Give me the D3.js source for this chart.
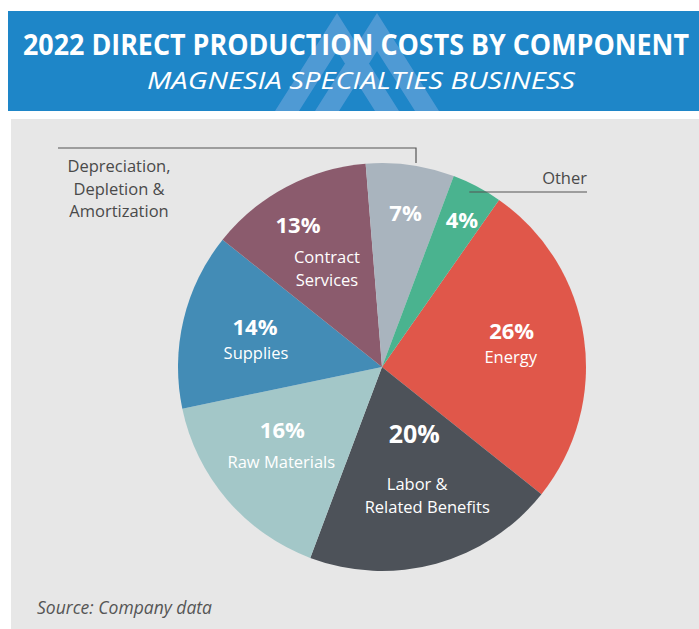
<!DOCTYPE html>
<html>
<head>
<meta charset="utf-8">
<script src="https://cdn.jsdelivr.net/npm/d3@7"></script>
<style>
  html, body { margin: 0; padding: 0; background: #fff; }
  svg { display: block; }
  text { font-family: "Open Sans", Lato, sans-serif; }
</style>
</head>
<body>
<div id="chart"></div>
<script>
// Data
const categories = ["Energy", "Labor & Related Benefits", "Raw Materials", "Supplies",
                    "Contract Services", "Depreciation, Depletion & Amortization", "Other"];
const shares = [26, 20, 16, 14, 13, 7, 4];
const nameLines = [["Energy"], ["Labor &", "Related Benefits"], ["Raw Materials"], ["Supplies"],
                   ["Contract", "Services"], [], []];
const outsideLines = [["Depreciation,", "Depletion &", "Amortization"], ["Other"]];
const titleText = "2022 DIRECT PRODUCTION COSTS BY COMPONENT";
const subtitleText = "MAGNESIA SPECIALTIES BUSINESS";
const sourceText = "Source: Company data";

const colors = ["#E0574A", "#4D5259", "#A3C7C8", "#438CB6", "#8B5B6D", "#A9B4BE", "#4AB38F"];

// label placement (radius along mid angle, then offsets per line)
const labelLayout = [
  { r: 130, pct: [1, -9.5], big: false, names: [[0, 14.5]] },
  { r: 110, pct: [3, -30], big: true, names: [[6, 17], [16, 40]] },
  { r: 130, pct: [-1, -14], big: false, names: [[-2, 16]] },
  { r: 128, pct: [-2.5, -2], big: false, names: [[-1.5, 22]] },
  { r: 130, pct: [-23, -19], big: false, names: [[6, 11], [6, 34]] },
  { r: 155, pct: [2, 7.5], big: false, names: [] },
  { r: 166, pct: [2.5, 8], big: false, names: [] }
];

const width = 699, height = 629;
const cx = 382, cy = 367, radius = 204;
const startDeg = 35;

const svg = d3.select("#chart").append("svg")
  .attr("width", width)
  .attr("height", height);

// Header band
svg.append("rect")
  .attr("x", 8).attr("y", 11)
  .attr("width", width - 8).attr("height", 100)
  .attr("fill", "#1E86C8");

// Logo watermark (two chevrons)
const wm = svg.append("g").attr("fill", "#5C9FD8").attr("opacity", 0.8);
[337, 377].forEach(px => {
  const top = 13, bot = 111, half = 62, thick = 24;
  const innerY = top + thick * (bot - top) / half;
  wm.append("path")
    .attr("d", d3.line()([
      [px, top], [px + half, bot], [px + half - thick, bot], [px, innerY],
      [px - half + thick, bot], [px - half, bot]
    ]) + "Z");
});

svg.append("text")
  .attr("x", 356).attr("y", 55)
  .attr("text-anchor", "middle")
  .attr("fill", "#fff")
  .attr("font-family", "Lato, sans-serif")
  .attr("font-weight", 700)
  .attr("font-size", 28)
  .attr("textLength", 666)
  .attr("lengthAdjust", "spacingAndGlyphs")
  .text(titleText);

svg.append("text")
  .attr("x", 361).attr("y", 89)
  .attr("text-anchor", "middle")
  .attr("fill", "#fff")
  .attr("font-family", "Lato, sans-serif")
  .attr("font-style", "italic")
  .attr("font-size", 24)
  .attr("textLength", 428)
  .attr("lengthAdjust", "spacingAndGlyphs")
  .text(subtitleText);

// Grey panel
svg.append("rect")
  .attr("x", 11).attr("y", 119)
  .attr("width", width - 11).attr("height", height - 119)
  .attr("fill", "#E7E7E7");

// Pie
const pie = d3.pie()
  .sort(null)
  .value(d => d)
  .startAngle(startDeg * Math.PI / 180)
  .endAngle(startDeg * Math.PI / 180 + 2 * Math.PI);

const arcs = pie(shares);
const arc = d3.arc().innerRadius(0).outerRadius(radius);

const g = svg.append("g").attr("transform", `translate(${cx},${cy})`);

g.selectAll("path.slice")
  .data(arcs)
  .enter()
  .append("path")
  .attr("class", "slice")
  .attr("d", arc)
  .attr("fill", (d, i) => colors[i]);

// Inside labels
arcs.forEach((d, i) => {
  const lay = labelLayout[i];
  const [ax, ay] = d3.arc().innerRadius(lay.r).outerRadius(lay.r).centroid(d);
  g.append("text")
    .attr("x", ax + lay.pct[0]).attr("y", ay + lay.pct[1])
    .attr("text-anchor", "middle")
    .attr("fill", "#fff")
    .attr("font-weight", 700)
    .attr("font-size", lay.big ? 25 : 22)
    .text(shares[i] + "%");
  nameLines[i].forEach((line, j) => {
    g.append("text")
      .attr("x", ax + lay.names[j][0]).attr("y", ay + lay.names[j][1])
      .attr("text-anchor", "middle")
      .attr("fill", "#fff")
      .attr("font-size", 16.5)
      .text(line);
  });
});

// Outside labels with leader lines
const otherArc = arcs[6];
// DD&A: bracket line down to the slice top
const ddaX = cx + 34;
svg.append("path")
  .attr("d", d3.line()([[58, 148], [ddaX, 148], [ddaX, 163]]))
  .attr("fill", "none")
  .attr("stroke", "#555")
  .attr("stroke-width", 1.2);

outsideLines[0].forEach((line, j) => {
  svg.append("text")
    .attr("x", 119).attr("y", 172 + j * 22.5)
    .attr("text-anchor", "middle")
    .attr("fill", "#4a4a4a")
    .attr("font-size", 16.5)
    .text(line);
});

// Other: line from inside the green slice out to the right
const oa = (otherArc.startAngle + otherArc.endAngle) / 2;
const oStartX = cx + (radius - 4) * Math.sin(oa) - 6;
svg.append("path")
  .attr("d", d3.line()([[oStartX, 192], [587, 192]]))
  .attr("fill", "none")
  .attr("stroke", "#555")
  .attr("stroke-width", 1.2);

svg.append("text")
  .attr("x", 587).attr("y", 184)
  .attr("text-anchor", "end")
  .attr("fill", "#4a4a4a")
  .attr("font-size", 16.5)
  .text(outsideLines[1][0]);

// Source
svg.append("text")
  .attr("x", 37).attr("y", 614)
  .attr("fill", "#555")
  .attr("font-style", "italic")
  .attr("font-size", 17.5)
  .text(sourceText);
</script>
</body>
</html>
